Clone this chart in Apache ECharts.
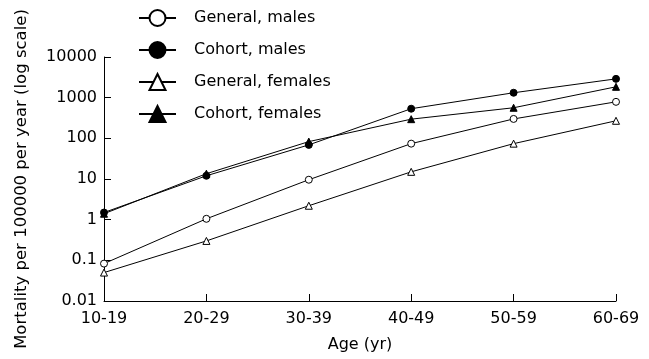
<!DOCTYPE html>
<html>
<head>
<meta charset="utf-8">
<script src="https://cdn.jsdelivr.net/npm/echarts@6/dist/echarts.min.js"></script>
<style>
  html, body { margin: 0; padding: 0; background: #fff; }
  #main { width: 649px; height: 359px; }
</style>
</head>
<body>
<div id="main"></div>
<script>
var ages = ['10-19', '20-29', '30-39', '40-49', '50-59', '60-69']
var generalMales = [0.083, 1.05, 9.6, 74, 300, 790]
var cohortMales = [1.5, 12, 69, 535, 1320, 2900]
var generalFemales = [0.05, 0.3, 2.2, 15, 74, 270]
var cohortFemales = [1.4, 13.5, 83, 296, 565, 1850]
var yTicks = ['0.01', '0.1', '1', '10', '100', '1000', '10000']

var font = 'DejaVu Sans'
var myChart = echarts.init(document.getElementById('main'))

function mkSeries(name, data, symbol, filled) {
  return {
    name: name,
    type: 'line',
    data: data,
    symbol: symbol,
    symbolSize: 7,
    showAllSymbol: true,
    lineStyle: { color: '#000', width: 1 },
    itemStyle: {
      color: filled ? '#000' : '#fff',
      borderColor: '#000',
      borderWidth: 1
    },
    emphasis: { disabled: true }
  }
}

var option = {
  animation: false,
  textStyle: { fontFamily: font },
  grid: { left: 104, right: 33, top: 57, bottom: 58 },
  legend: {
    orient: 'vertical',
    left: 133,
    top: 2,
    itemWidth: 37,
    itemHeight: 20,
    itemGap: 10,
    textStyle: { fontFamily: font, fontSize: 16, color: '#000', padding: [2, 0, 0, 13], lineHeight: 20 },
    data: ['General, males', 'Cohort, males', 'General, females', 'Cohort, females']
  },
  xAxis: {
    type: 'category',
    boundaryGap: false,
    data: ages,
    name: 'Age (yr)',
    nameLocation: 'middle',
    nameGap: 36,
    nameTextStyle: { fontFamily: font, fontSize: 16, color: '#000' },
    axisLine: { lineStyle: { color: '#000', width: 1 } },
    axisTick: { inside: true, length: 7, lineStyle: { color: '#000' } },
    axisLabel: { fontFamily: font, fontSize: 16, color: '#000', margin: 10, interval: 0 },
    splitLine: { show: false }
  },
  yAxis: {
    type: 'log',
    logBase: 10,
    min: 0.01,
    max: 10000,
    name: 'Mortality per 100000 per year (log scale)',
    nameLocation: 'middle',
    nameGap: 74,
    nameTextStyle: { fontFamily: font, fontSize: 16.5, color: '#000' },
    axisLine: { show: true, lineStyle: { color: '#000', width: 1 } },
    axisTick: { show: true, inside: true, length: 7, lineStyle: { color: '#000' } },
    axisLabel: {
      fontFamily: font, fontSize: 16, color: '#000', margin: 7,
      formatter: function (v) {
        var i = Math.round(Math.log10(v)) + 2
        return yTicks[i] || ''
      }
    },
    splitLine: { show: false }
  },
  series: [
    mkSeries('General, males', generalMales, 'circle', false),
    mkSeries('Cohort, males', cohortMales, 'circle', true),
    mkSeries('General, females', generalFemales, 'triangle', false),
    mkSeries('Cohort, females', cohortFemales, 'triangle', true)
  ]
}

myChart.setOption(option, true)
</script>
</body>
</html>
